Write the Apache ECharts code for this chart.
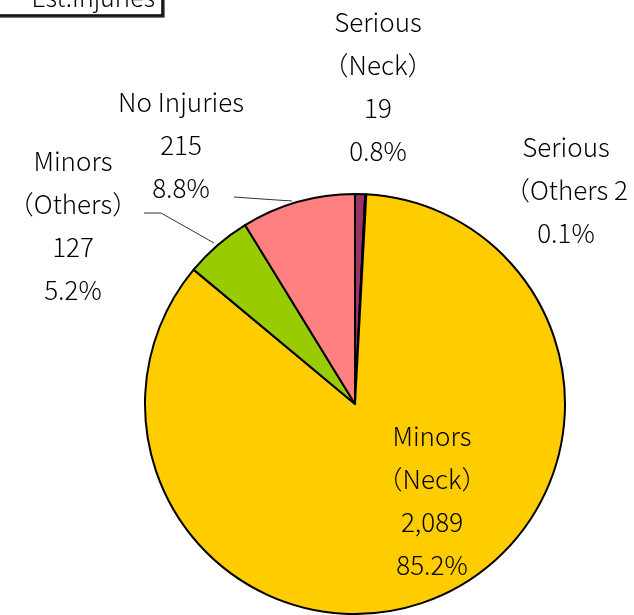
<!DOCTYPE html>
<html>
<head>
<meta charset="utf-8">
<script src="https://cdn.jsdelivr.net/npm/echarts@6/dist/echarts.min.js"></script>
<style>
html,body{margin:0;padding:0;background:#fff;}
#c{width:634px;height:615px;}
</style>
</head>
<body>
<div id="c"></div>
<script>
var categories = ['Serious\n（Neck）', 'Serious\n（Others', 'Minors\n（Neck）', 'Minors\n（Others）', 'No Injuries'];
var values = [19, 2, 2089, 127, 215];
var percents = ['0.8%', '0.1%', '85.2%', '5.2%', '8.8%'];
var valueLabels = ['19', '2', '2,089', '127', '215'];
var colors = ['#993366', '#7F3F7F', '#FFCC00', '#99CC00', '#FF8080'];
var titleText = 'Est.Injuries';

// label placement (pixels), separate from data
var labelPos = [
  {x: 378, y: 87},
  {x: 566, y: 190},
  {x: 432, y: 501},
  {x: 73, y: 226},
  {x: 181, y: 145}
];
var leaderLines = {
  3: [[214, 243], [161, 213], [144, 213]],
  4: [[292, 201], [262, 199], [234, 197]]
};

function labelText(i) {
  if (i === 1) return 'Serious\n（Others 2\n0.1%';
  if (i === 4) return 'No Injuries\n215\n8.8%';
  return categories[i] + '\n' + valueLabels[i] + '\n' + percents[i];
}

var chart = echarts.init(document.getElementById('c'), null, {renderer: 'canvas'});
var data = categories.map(function (c, i) {
  return {
    name: c,
    value: values[i],
    itemStyle: {color: colors[i]},
    labelLine: {show: i === 3 || i === 4, lineStyle: {color: '#333', width: 1}}
  };
});

chart.setOption({
  animation: false,
  graphic: [
    {type: 'rect', shape: {x: -10, y: -25, width: 172, height: 40}, style: {fill: '#fff', stroke: '#000', lineWidth: 1.5, shadowColor: 'rgba(0,0,0,0.7)', shadowOffsetX: 2, shadowOffsetY: 2, shadowBlur: 0}},
    {type: 'text', style: {text: titleText, x: 155, y: 10, align: 'right', verticalAlign: 'bottom', font: '300 25px "Noto Sans CJK JP"', fill: '#000'}}
  ],
  series: [{
    type: 'pie',
    center: [355, 404],
    radius: [0, 210],
    startAngle: 90,
    clockwise: true,
    avoidLabelOverlap: false,
    itemStyle: {borderColor: '#000', borderWidth: 2},
    label: {
      show: true,
      position: 'outside',
      formatter: function (p) { return labelText(p.dataIndex); },
      fontFamily: '"Noto Sans CJK JP"',
      fontWeight: 300,
      fontSize: 26,
      lineHeight: 43,
      color: '#000',
      align: 'center'
    },
    labelLine: {length: 20, length2: 30, smooth: false},
    labelLayout: function (p) {
      var pos = labelPos[p.dataIndex];
      var o = {x: pos.x, y: pos.y, align: 'center', verticalAlign: 'middle'};
      if (leaderLines[p.dataIndex]) o.labelLinePoints = leaderLines[p.dataIndex];
      return o;
    },
    emphasis: {disabled: true},
    data: data
  }]
});
</script>
</body>
</html>
